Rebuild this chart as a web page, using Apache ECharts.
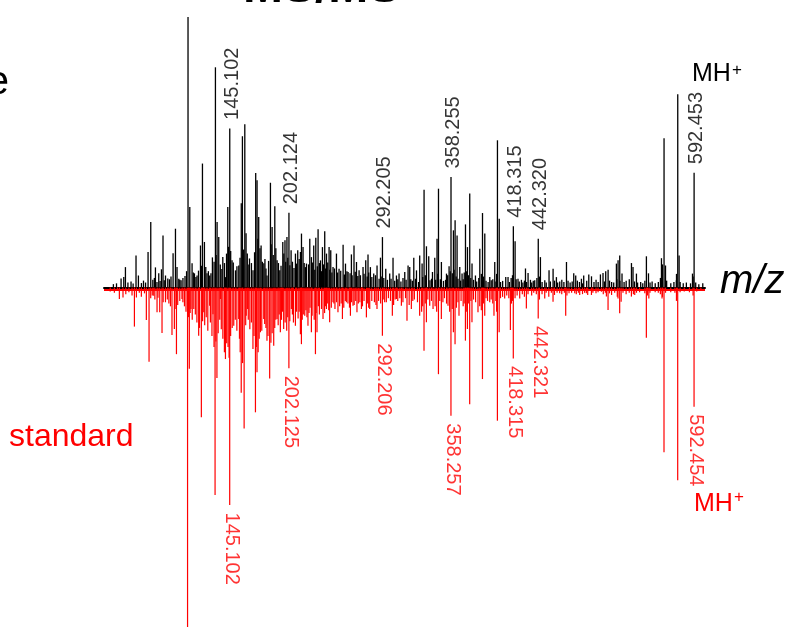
<!DOCTYPE html>
<html>
<head>
<meta charset="utf-8">
<script src="https://cdn.jsdelivr.net/npm/echarts@6/dist/echarts.min.js"></script>
<style>
html,body{margin:0;padding:0;background:#fff;}
#chart{width:789px;height:627px;}
</style>
</head>
<body>
<div id="chart"></div>
<script>
// ---- DATA ----
// sample (black, upper) major peaks: [m/z, relative intensity]
const sampleMajor = [[40.4,3.3],[43.0,3.8],[44.6,7.5],[54.8,11.8],[57.1,4.4],[66.4,13.1],[69.0,24.2],[73.5,7.4],[76.7,5.2],[79.3,6.7],[80.8,19.2],[83.2,4.4],[85.4,3.3],[90.5,12.6],[92.8,21.7],[94.3,7.5],[98.2,2.6],[104.9,100],[106.6,29.7],[108.8,8.9],[111.1,5.2],[113.6,4.4],[116.9,15.5],[118.8,45.8],[120.7,16.8],[123.2,5.2],[125.8,4.4],[128.4,11.1],[131.3,81.4],[132.9,24.2],[134.5,18.6],[138.4,11.2],[141.0,3.8],[143.2,29.7],[145.102,58.8],[147.3,10.0],[150.6,6.3],[153.8,8.1],[156.2,31.1],[157.3,55.9],[159.6,60.3],[160.8,20.0],[164.1,10.7],[167.5,6.3],[170.1,42.3],[171.4,39.6],[173.0,26.0],[175.3,15.5],[177.9,8.9],[181.0,4.4],[184.3,38.7],[185.9,22.3],[188.5,30.0],[190.7,10.0],[193.3,6.3],[196.2,16.8],[198.3,17.4],[200.2,18.6],[202.124,27.6],[204.2,13.7],[208.4,12.5],[210.6,13.7],[213.2,13.1],[214.2,19.9],[215.7,14.9],[219.0,8.8],[222.2,18.0],[223.8,11.2],[226.0,15.5],[228.0,18.4],[230.2,21.5],[232.5,10.0],[234.4,14.9],[236.6,20.8],[238.3,12.5],[240.8,14.9],[242.4,13.7],[244.6,7.5],[247.9,12.5],[250.4,6.9],[254.3,15.8],[256.6,8.8],[259.1,5.7],[262.3,12.2],[264.8,15.5],[267.2,9.4],[269.7,6.3],[273.5,7.5],[276.1,10.0],[278.3,12.2],[280.6,7.5],[283.8,5.1],[287.0,8.1],[290.3,11.0],[292.205,18.6],[295.4,6.9],[299.2,5.1],[302.4,11.0],[305.7,4.4],[308.2,5.1],[313.7,5.7],[316.9,8.1],[318.5,7.5],[322.4,11.0],[325.0,6.3],[328.1,11.8],[330.4,8.8],[332.3,36.1],[334.6,15.2],[336.8,11.5],[340.4,5.7],[342.6,11.0],[344.8,18.0],[346.2,36.5],[349.0,9.4],[353.9,5.1],[356.4,7.8],[358.255,40.8],[360.6,21.1],[362.2,24.8],[364.1,19.2],[366.7,7.5],[368.9,5.1],[372.2,23.3],[374.1,14.9],[376.3,34.7],[378.5,8.8],[381.8,4.4],[386.0,14.3],[388.6,27.5],[390.8,19.9],[395.6,3.8],[400.4,9.4],[403.0,54.4],[404.7,25.4],[411.0,3.8],[413.2,3.8],[418.315,22.6],[420.0,17.1],[422.8,3.2],[426.1,2.8],[430.0,7.0],[432.5,5.3],[434.8,2.8],[438.9,2.6],[442.320,18.0],[444.4,11.2],[448.6,2.6],[452.7,6.3],[456.6,6.9],[459.8,3.8],[469.5,9.4],[476.5,5.2],[478.4,4.4],[483.9,3.2],[486.1,4.4],[491.0,4.8],[493.6,4.1],[502.2,4.8],[504.7,5.3],[507.3,6.0],[509.6,6.5],[517.6,8.8],[519.2,10.0],[520.8,11.8],[523.0,5.1],[532.1,9.0],[533.6,7.5],[536.9,5.1],[546.5,11.5],[548.5,5.2],[561.0,10.8],[563.5,55.2],[564.9,8.1],[575.4,2.6],[576.7,71.4],[578.0,11.8],[590.9,5.1],[592.453,42.4],[600.8,1.5]];

// sample small baseline peaks
const sampleMinor = [[33,1.2],[36,1.5],[47,1.8],[50,2.2],[52,1.4],[60,1.6],[62,2.5],[64,1.8],[71,2.8],[72.5,3.5],[75,2.0],[78,2.4],[82,2.6],[87,3.0],[88.5,4.0],[96,3.2],[97,2.8],[100,3.5],[102,4.2],[103.5,6.0],[110,5.5],[112.5,3.8],[115,6.2],[117.8,8.0],[122,7.5],[124.5,6.0],[127,5.2],[130,9.5],[132,12.0],[136,8.5],[137.5,6.8],[140,9.0],[142,12.5],[144,15.0],[146,13.5],[148.5,9.2],[152,7.8],[155,11.0],[158.5,14.0],[162,12.5],[163.5,8.5],[166,9.0],[169,13.0],[172.2,18.0],[174.2,14.5],[176.5,9.5],[179,10.5],[180,7.0],[182.5,9.8],[185,16.0],[187,12.0],[189.5,14.5],[192,9.0],[194.5,8.0],[197.2,12.5],[199,9.5],[201,11.0],[203,8.2],[205.5,9.5],[207,7.2],[209.5,8.8],[212,10.5],[216.8,9.0],[218,7.5],[221,8.5],[225,9.2],[227,6.5],[229.5,7.8],[231.5,9.0],[233.5,6.0],[235.5,8.5],[237.5,7.0],[239.5,9.2],[241.5,6.5],[243.5,5.5],[246,7.0],[249,5.5],[252,6.2],[255.5,4.8],[258,6.0],[261,5.2],[263,4.5],[266,5.8],[268.5,4.2],[271,4.5],[274.5,5.0],[277.5,4.0],[279,5.5],[282,3.8],[285.5,4.5],[289,3.2],[291,4.0],[293.5,3.5],[297,2.8],[300.5,3.2],[304,2.5],[307,3.0],[310,2.2],[312,3.5],[315,2.8],[319.5,3.0],[321,2.5],[324,3.2],[327,2.0],[331,3.8],[333.5,4.5],[338,2.6],[339.5,3.2],[343.5,2.8],[345.5,5.0],[348,3.0],[351,2.4],[353,2.8],[355,4.5],[357.5,6.0],[359.5,5.2],[361.2,6.5],[363.2,4.0],[365,3.2],[367.5,2.5],[370,3.0],[371,5.5],[373,6.0],[375,4.5],[377.3,3.5],[380,2.8],[383,2.2],[385,3.5],[387.5,5.0],[389.5,4.0],[392,2.5],[394,2.0],[397,2.6],[398.5,3.0],[401.5,2.2],[402.2,5.0],[406,2.0],[408,2.4],[414.5,2.0],[416.2,3.5],[417.5,4.5],[421,3.0],[424,2.2],[427.5,1.8],[429,2.5],[431,2.0],[436,1.8],[437.5,2.5],[441,3.5],[443.5,4.0],[446,2.0],[450,1.8],[454,2.2],[458,2.5],[461,1.8],[463,2.2],[465,2.8],[467,2.0],[471,2.5],[473,1.8],[475,2.2],[480,2.5],[482,2.0],[485,1.5],[489,2.5],[496,2.0],[498,2.8],[500,2.0],[506,2.2],[511,2.5],[513,2.0],[515,1.8],[518,3.0],[521,2.5],[525,2.0],[527,2.5],[530,3.0],[535,2.2],[538,1.8],[541,2.0],[543,1.5],[545,2.5],[550,1.8],[552,2.2],[555,1.5],[558,2.0],[560,3.5],[562,8.5],[566,2.5],[570,1.5],[573,2.0],[575.5,5.0],[579,2.0],[582,1.5],[585,1.8],[589,1.5],[591.5,4.0],[594,1.8],[597,1.2]];

// standard (red, lower) major peaks: [m/z, relative intensity]
const standardMajor = [[38.8,4.3],[42.3,3.7],[53.3,14.5],[55.2,3.7],[64.8,12.1],[67.4,27.5],[71.9,3.1],[75.1,9.2],[77.7,9.2],[79.9,16.9],[83.2,5.5],[89.5,17.6],[91.8,15.4],[93.8,24.7],[99.1,4.3],[104.5,130],[106.2,30.1],[107.8,8.0],[115.2,17.9],[117.8,48.0],[120.1,9.2],[125.8,6.8],[129.0,9.9],[131.0,76.8],[132.8,33.5],[136.1,4.3],[141.0,26.5],[142.2,20.7],[145.102,80.5],[149.0,14.2],[153.8,11.7],[156.2,39.0],[159.0,52.2],[161.0,10.5],[162.4,8.0],[167.5,22.8],[169.9,46.2],[171.4,31.4],[174.7,16.6],[177.9,11.7],[181.0,19.7],[183.6,33.7],[187.5,21.6],[190.7,11.7],[193.9,16.6],[197.1,15.4],[202.125,29.9],[204.5,8.0],[208.4,14.2],[213.2,17.3],[214.2,21.0],[217.4,10.5],[220.5,14.2],[223.8,16.6],[227.7,24.7],[229.2,16.6],[235.0,11.7],[238.3,8.0],[241.4,12.9],[244.6,5.5],[249.4,9.2],[253.7,11.7],[257.5,5.5],[261.4,10.5],[263.9,6.8],[267.7,9.2],[272.0,8.0],[276.8,11.1],[280.0,8.0],[287.0,8.0],[292.206,17.9],[294.4,5.5],[301.8,10.5],[305.7,4.3],[310.5,6.8],[315.9,12.3],[320.1,8.0],[328.1,10.5],[332.3,23.4],[334.6,12.9],[337.8,6.8],[341.0,8.0],[346.2,32.1],[349.0,11.7],[355.4,6.8],[358.257,47.5],[360.6,16.6],[362.2,21.0],[366.0,10.5],[372.2,19.7],[374.1,15.4],[376.3,43.2],[378.5,12.9],[384.3,9.2],[388.6,33.9],[390.8,10.5],[395.6,5.5],[399.7,10.5],[403.0,49.3],[404.7,16.6],[410.0,4.1],[415.5,15.8],[418.315,26.3],[424.5,4.1],[430.9,7.8],[442.321,11.5],[448.6,4.1],[456.6,5.3],[463.0,2.2],[468.8,10.5],[477.5,2.2],[482.3,2.8],[488.7,2.2],[493.6,2.8],[503.2,1.6],[508.0,3.4],[509.6,8.4],[519.2,4.1],[520.8,9.6],[522.2,5.3],[532.1,3.4],[535.3,2.8],[546.5,18.6],[548.9,4.1],[561.6,4.1],[563.5,61.0],[576.7,71.3],[592.454,44.1]];

// standard small baseline peaks
const standardMinor = [[30,1.5],[34,2.0],[37,1.2],[45,2.5],[48,1.8],[51,3.0],[58,2.0],[60,3.5],[63,2.2],[69,4.0],[70.5,3.0],[73,4.5],[76,3.8],[81,5.5],[85,4.5],[86.5,6.0],[88,7.0],[92.5,8.0],[95,6.5],[97,5.0],[100,5.5],[101.5,7.0],[103,9.0],[105.5,11.0],[107,9.5],[109,12.0],[110.5,8.0],[112,10.0],[113.5,13.0],[116,15.0],[119,12.5],[121,14.0],[122.5,11.0],[124,16.0],[126.5,13.0],[128,18.0],[130,22.0],[131.8,20.0],[134,17.0],[135.5,12.0],[137,15.5],[138.5,19.0],[140,24.0],[143.5,22.0],[144.5,26.0],[146,18.0],[147.5,15.0],[150.5,12.0],[152,16.0],[154.5,19.0],[155.2,24.0],[157.5,28.0],[160.5,14.0],[163,12.0],[164.5,15.5],[166,13.0],[168.5,18.0],[170.8,22.0],[172.5,24.0],[173.5,19.0],[176,16.0],[178.8,13.5],[180,15.0],[182,18.0],[184.8,20.5],[186,17.0],[188.5,15.0],[189.5,12.0],[191.8,14.0],[192.8,10.0],[195,12.0],[196,9.0],[198.5,13.0],[200,16.0],[201,11.0],[203,12.5],[205.5,10.0],[206.5,13.0],[209.5,9.0],[211,11.5],[212,9.0],[215,12.0],[216,10.0],[218.5,8.5],[219.5,11.0],[221.5,9.5],[222.5,7.5],[224.5,10.5],[226.5,12.0],[228.3,9.5],[230.5,7.0],[231.5,10.0],[233.5,8.0],[236.5,9.5],[237.5,7.0],[239.5,6.0],[240.5,8.5],[243,7.5],[245.5,6.0],[246.5,8.0],[248,5.5],[251,7.0],[252.5,6.0],[255,7.5],[256.5,5.0],[259,6.0],[260.5,7.5],[262.5,5.5],[265,6.5],[266.5,5.0],[269,6.0],[270.5,5.5],[273,7.0],[274.5,5.0],[278,6.0],[279,7.5],[282,5.0],[284.5,5.5],[286,6.5],[288.5,5.0],[290.5,6.0],[293,4.5],[296,5.5],[298,4.0],[300,5.0],[303,6.5],[304.5,4.5],[307,5.0],[309,4.0],[312,5.5],[314.5,4.0],[318,6.5],[321.5,5.0],[323,4.5],[326,5.5],[330,9.0],[331,7.0],[333.5,6.0],[336,4.5],[339.5,5.0],[343,7.0],[344.5,9.0],[347.5,5.0],[350.5,5.5],[352,4.0],[354,6.0],[357,9.0],[359.5,8.0],[363.5,7.5],[365,5.5],[368,5.0],[370,7.0],[371,6.0],[373,9.0],[375,6.0],[377.5,5.0],[380,4.5],[382,5.5],[386,7.0],[387.5,8.5],[389.5,6.0],[392,4.0],[393.5,5.0],[397,4.5],[398.5,6.0],[401.5,5.0],[402.2,9.0],[406,4.0],[408,3.5],[412,3.0],[414,4.0],[416.5,6.0],[417.5,5.0],[420,4.0],[422,3.0],[427,2.5],[429,3.5],[432.5,2.5],[436,3.0],[438,2.0],[440.5,2.5],[443.5,4.5],[446,2.5],[450,2.0],[452.5,3.5],[455,2.0],[458,2.8],[460.5,2.0],[465,2.5],[467.5,2.0],[470,3.0],[472,2.2],[474.5,2.0],[479,2.5],[481,2.0],[485,2.5],[487,2.0],[490,2.8],[495,2.0],[498,2.2],[500,1.8],[505,2.5],[507,2.0],[511,2.2],[513,2.8],[516,2.0],[518.5,3.5],[524,2.0],[527,2.5],[530,2.0],[534,2.5],[537,2.0],[540,1.8],[545,2.2],[547.5,3.0],[550,2.0],[555,1.8],[558,2.0],[560,2.5],[562,3.5],[565,2.0],[570,1.8],[574,2.0],[575.5,5.0],[579,1.8],[583,1.5],[588,1.8],[591.5,3.0],[595,1.5],[599,1.2]];

// annotated peaks
const sampleLabels = ['145.102','202.124','292.205','358.255','418.315','442.320','592.453'];
const standardLabels = ['145.102','202.125','292.206','358.257','418.315','442.321','592.454'];

// axis range (m/z)
const mzMin = 24, mzMax = 603;

// ---- BUILD ----
const FONT = '"Liberation Sans", Arial, sans-serif';
function lookup(list, mz) {
  const hit = list.find(p => Math.abs(p[0] - mz) < 1e-6);
  return hit ? hit[1] : 0;
}
const blackData = sampleMajor.concat(sampleMinor).map(p => [p[0], p[1]]);
const redData = standardMajor.concat(standardMinor).map(p => [p[0], -p[1]]);
const blackLabelData = sampleLabels.map(t => ({ name: t, value: [parseFloat(t), lookup(sampleMajor, parseFloat(t))] }));
const redLabelData = standardLabels.map(t => ({ name: t, value: [parseFloat(t), -lookup(standardMajor, parseFloat(t))] }));

const chart = echarts.init(document.getElementById('chart'), null, { renderer: 'canvas' });
chart.setOption({
  animation: false,
  backgroundColor: '#ffffff',
  grid: { left: 104, right: 84, top: 17, bottom: 0, containLabel: false },
  xAxis: {
    type: 'value', min: mzMin, max: mzMax,
    axisLine: { show: true, onZero: true, lineStyle: { color: '#000', width: 2 } },
    axisTick: { show: false }, axisLabel: { show: false }, splitLine: { show: false }
  },
  yAxis: {
    type: 'value', min: -125.6, max: 100, show: false,
    splitLine: { show: false }
  },
  series: [
    {
      name: 'sample', type: 'bar', data: blackData, barWidth: 1.3, barGap: '-100%',
      itemStyle: { color: '#000' }, clip: true, z: 3
    },
    {
      name: 'standard', type: 'bar', data: redData, barWidth: 1.2, barGap: '-100%',
      itemStyle: { color: '#ff0000' }, clip: true, z: 2,
      markLine: {
        silent: true, symbol: 'none', label: { show: false },
        lineStyle: { color: '#ff0000', width: 2, type: 'solid' },
        data: [{ yAxis: -0.9 }]
      }
    },
    {
      name: 'sampleLabels', type: 'scatter', data: blackLabelData, symbolSize: 1,
      itemStyle: { color: 'rgba(0,0,0,0)' }, z: 5,
      label: {
        show: true, formatter: p => p.name, position: 'top', distance: 8,
        rotate: 90, align: 'left', verticalAlign: 'middle', offset: [0, 2.5],
        fontSize: 20, fontFamily: FONT, color: '#000'
      }
    },
    {
      name: 'standardLabels', type: 'scatter', data: redLabelData, symbolSize: 1,
      itemStyle: { color: 'rgba(0,0,0,0)' }, z: 5,
      label: {
        show: true, formatter: p => p.name, position: 'bottom', distance: 7,
        rotate: -90, align: 'left', verticalAlign: 'middle', offset: [0, -1.5],
        fontSize: 20, fontFamily: FONT, color: '#ff0000'
      }
    }
  ],
  graphic: [
    { type: 'text', x: 243, y: -11, style: { text: 'MS/MS', font: 'bold 48px ' + FONT, fill: '#000', verticalAlign: 'middle' } },
    { type: 'text', x: 9, y: 83, style: { text: 'sample', font: '40px ' + FONT, fill: '#000', align: 'right', verticalAlign: 'middle' } },
    { type: 'text', x: 9, y: 437, style: { text: 'standard', font: '32px ' + FONT, fill: '#ff0000', align: 'left', verticalAlign: 'middle' } },
    { type: 'text', x: 720, y: 282, style: { text: 'm/z', font: 'italic 40px ' + FONT, fill: '#000', align: 'left', verticalAlign: 'middle' } },
    { type: 'text', x: 692, y: 74.3, style: { text: 'MH', font: '25px ' + FONT, fill: '#000', align: 'left', verticalAlign: 'middle' } },
    { type: 'text', x: 737, y: 70.5, style: { text: '+', font: '17px ' + FONT, fill: '#000', align: 'center', verticalAlign: 'middle' } },
    { type: 'text', x: 694, y: 504.3, style: { text: 'MH', font: '25px ' + FONT, fill: '#ff0000', align: 'left', verticalAlign: 'middle' } },
    { type: 'text', x: 739, y: 497.5, style: { text: '+', font: '17px ' + FONT, fill: '#ff0000', align: 'center', verticalAlign: 'middle' } }
  ]
});
</script>
</body>
</html>
